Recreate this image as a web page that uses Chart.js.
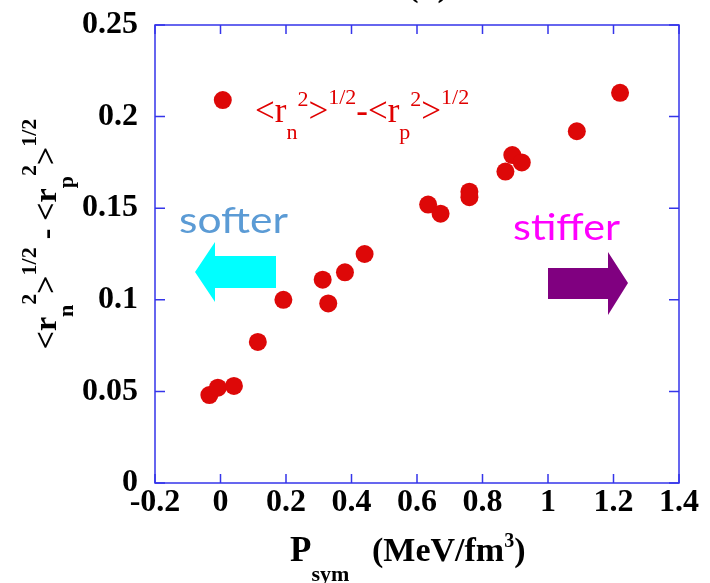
<!DOCTYPE html>
<html>
<head>
<meta charset="utf-8">
<script src="https://cdn.jsdelivr.net/npm/chart.js@4.4.1/dist/chart.umd.min.js"></script>
<style>
  html, body { margin: 0; padding: 0; background: #fff; }
  #wrap { width: 710px; height: 583px; }
</style>
</head>
<body>
<div id="wrap"><canvas id="myChart" width="710" height="583"></canvas></div>
<script>
'use strict';

// Symmetry pressure P_sym (MeV/fm^3) of each interaction
const psym = [-0.034, -0.008, 0.041, 0.007, 0.114, 0.192, 0.312, 0.329, 0.380, 0.440,
  0.634, 0.672, 0.760, 0.760, 0.870, 0.891, 0.920, 1.088, 1.220];
// Neutron skin <rn^2>^1/2 - <rp^2>^1/2 (fm)
const skin = [0.048, 0.052, 0.053, 0.209, 0.077, 0.100, 0.111, 0.098, 0.115, 0.125,
  0.152, 0.147, 0.159, 0.156, 0.170, 0.179, 0.175, 0.192, 0.213];

// Axis ticks
const xTicks = [-0.2, 0, 0.2, 0.4, 0.6, 0.8, 1, 1.2, 1.4];
const xTickLabels = ['-0.2', '0', '0.2', '0.4', '0.6', '0.8', '1', '1.2', '1.4'];
const yTicks = [0, 0.05, 0.1, 0.15, 0.2, 0.25];
const yTickLabels = ['0', '0.05', '0.1', '0.15', '0.2', '0.25'];

const serif = "'Liberation Serif', 'Times New Roman', serif";
const sans = "Lato, 'Open Sans', sans-serif";
const frameColor = '#3535ea';
const pointColor = '#dd0808';

// draw text pieces (with sub/superscripts) left to right from x, baseline y
// each piece: [text, size, dy]
function partsWidth(ctx, parts, weight) {
  let w = 0;
  parts.forEach(p => {
    ctx.font = weight + ' ' + p[1] + 'px ' + serif;
    w += ctx.measureText(p[0]).width;
  });
  return w;
}
function drawParts(ctx, parts, x, y, weight) {
  ctx.textAlign = 'left';
  ctx.textBaseline = 'alphabetic';
  parts.forEach(p => {
    ctx.font = weight + ' ' + p[1] + 'px ' + serif;
    ctx.fillText(p[0], x, y + p[2]);
    x += ctx.measureText(p[0]).width;
  });
}

// text stretched horizontally to a given width
function fitText(ctx, text, x, y, width, size, color) {
  ctx.save();
  ctx.font = size + 'px ' + sans;
  ctx.fillStyle = color;
  ctx.textAlign = 'left';
  ctx.textBaseline = 'alphabetic';
  const k = width / ctx.measureText(text).width;
  ctx.translate(x, y);
  ctx.scale(k, 1);
  ctx.fillText(text, 0, 0);
  ctx.restore();
}

function poly(ctx, pts, color) {
  ctx.fillStyle = color;
  ctx.beginPath();
  ctx.moveTo(pts[0][0], pts[0][1]);
  for (let i = 1; i < pts.length; i++) ctx.lineTo(pts[i][0], pts[i][1]);
  ctx.closePath();
  ctx.fill();
}

const frame = {
  id: 'frame',
  beforeDatasetsDraw(chart) {
    const {ctx, chartArea: a, scales: {x, y}} = chart;
    ctx.save();
    // box and inward ticks on all four sides
    ctx.strokeStyle = frameColor;
    ctx.lineWidth = 1.5;
    ctx.strokeRect(a.left, a.top, a.right - a.left, a.bottom - a.top);
    ctx.beginPath();
    xTicks.forEach(v => {
      const px = x.getPixelForValue(v);
      ctx.moveTo(px, a.bottom); ctx.lineTo(px, a.bottom - 9);
      ctx.moveTo(px, a.top); ctx.lineTo(px, a.top + 9);
    });
    yTicks.forEach(v => {
      const py = y.getPixelForValue(v);
      ctx.moveTo(a.left, py); ctx.lineTo(a.left + 10, py);
      ctx.moveTo(a.right, py); ctx.lineTo(a.right - 10, py);
    });
    ctx.stroke();

    // softer / stiffer arrows
    poly(ctx, [[195, 272], [215, 242], [215, 256], [276, 256], [276, 288], [215, 288], [215, 302]], '#00ffff');
    poly(ctx, [[548, 268], [608, 268], [608, 252], [628, 283], [608, 315], [608, 299], [548, 299]], '#800080');

    fitText(ctx, 'softer', 179, 233, 109, 37, '#5b9bd5');
    fitText(ctx, 'stiffer', 513, 240, 107, 37, '#ff00ff');

    // red label
    ctx.fillStyle = '#e00000';
    drawParts(ctx, [['<r', 35, 0], ['n', 22, 17], ['2', 22, -16], ['>', 35, 0], ['1/2', 22, -18],
      ['-<r', 35, 0], ['p', 22, 17], ['2', 22, -16], ['>', 35, 0], ['1/2', 22, -18]], 255, 122, 'normal');
    ctx.restore();
  },
  afterDraw(chart) {
    const {ctx} = chart;
    ctx.save();
    ctx.fillStyle = '#000';
    // x title
    drawParts(ctx, [['P', 35, 0], ['sym', 22, 20]], 290, 561, 'bold');
    drawParts(ctx, [['(MeV/fm', 34, 0], ['3', 20, -14], [')', 34, 0]], 372, 561, 'bold');
    // y title, rotated
    const yParts = [['<r', 32, 0], ['n', 22, 17], ['2', 22, -20], ['>', 32, 0], ['1/2', 22, -20],
      [' - ', 32, 0], ['<r', 32, 0], ['p', 22, 17], ['2', 22, -20], ['>', 32, 0], ['1/2', 22, -20]];
    const w = partsWidth(ctx, yParts, 'bold');
    ctx.translate(56, 234);
    ctx.rotate(-Math.PI / 2);
    drawParts(ctx, yParts, -w / 2, 0, 'bold');
    ctx.restore();
    // panel label cut at the top edge
    ctx.save();
    ctx.fillStyle = '#000';
    ctx.font = 'bold 34px ' + serif;
    ctx.textAlign = 'center';
    ctx.fillText('(b)', 428, -4);
    ctx.restore();
  }
};

const ctx = document.getElementById('myChart').getContext('2d');
const chart = new Chart(ctx, {
  type: 'scatter',
  data: {
    datasets: [{
      data: psym.map((v, i) => ({x: v, y: skin[i]})),
      backgroundColor: pointColor,
      borderWidth: 0,
      pointRadius: 9,
      pointHoverRadius: 9
    }]
  },
  options: {
    responsive: false,
    devicePixelRatio: 1,
    animation: false,
    layout: {padding: {left: 0, top: 25, right: 31, bottom: 0}},
    plugins: {legend: {display: false}, tooltip: {enabled: false}},
    scales: {
      x: {
        type: 'linear',
        min: -0.2,
        max: 1.4,
        afterBuildTicks(scale) { scale.ticks = xTicks.map(v => ({value: v})); },
        afterFit(scale) {
          scale.height = 100;
          scale.paddingLeft = 0;
          scale.paddingRight = 0;
        },
        grid: {display: false, drawTicks: false},
        border: {display: false},
        ticks: {
          color: '#000',
          padding: 1,
          maxRotation: 0,
          autoSkip: false,
          font: {family: serif, size: 32, weight: 'bold'},
          callback: (v, i) => xTickLabels[i]
        }
      },
      y: {
        type: 'linear',
        min: 0,
        max: 0.25,
        afterBuildTicks(scale) { scale.ticks = yTicks.map(v => ({value: v})); },
        afterFit(scale) {
          scale.width = 155;
          scale.paddingTop = 0;
          scale.paddingBottom = 0;
        },
        grid: {display: false, drawTicks: false},
        border: {display: false},
        ticks: {
          color: '#000',
          padding: 17,
          autoSkip: false,
          font: {family: serif, size: 32, weight: 'bold'},
          callback: (v, i) => yTickLabels[i]
        }
      }
    }
  },
  plugins: [frame]
});
</script>
</body>
</html>
